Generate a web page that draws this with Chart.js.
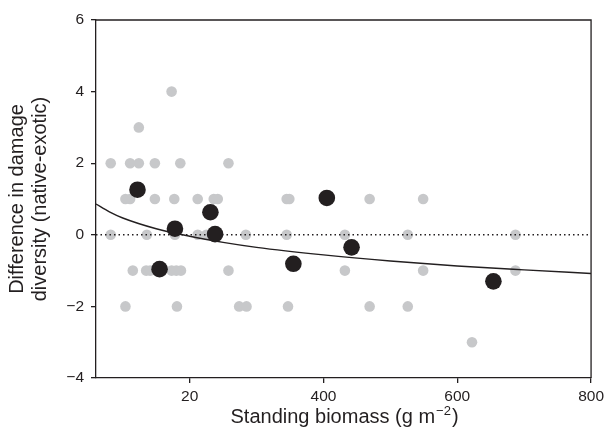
<!DOCTYPE html>
<html>
<head>
<meta charset="utf-8">
<script src="https://cdn.jsdelivr.net/npm/chart.js@4.4.1/dist/chart.umd.min.js"></script>
<style>
  body { margin: 0; background: #fff; }
</style>
</head>
<body>
<canvas id="grafico" width="608" height="437"></canvas>
<script>
// grey points: individual plots
const grisX = [173, 124,
  82, 111, 124, 148, 186, 258,
  104, 111, 148, 177, 212, 236, 242, 345, 349, 469, 549,
  82, 136, 178, 212, 225, 284, 345, 432, 526, 687,
  115, 135, 141, 173, 180, 187, 258, 432, 549, 687,
  104, 181, 274, 285, 347, 469, 526,
  622];
const grisY = [4, 3,
  2, 2, 2, 2, 2, 2,
  1, 1, 1, 1, 1, 1, 1, 1, 1, 1, 1,
  0, 0, 0, 0, 0, 0, 0, 0, 0, 0,
  -1, -1, -1, -1, -1, -1, -1, -1, -1, -1,
  -2, -2, -2, -2, -2, -2, -2,
  -3];

// black points: site means
const mediaX = [122, 155, 178, 231, 238, 355, 405, 442, 654];
const mediaY = [1.26, -0.96, 0.17, 0.63, 0.02, -0.81, 1.03, -0.35, -1.30];

// fitted curve
const curvaX = [60, 80, 100, 150, 200, 250, 300, 400, 500, 600, 700, 800];
const curvaY = [0.86, 0.64, 0.47, 0.17, -0.04, -0.21, -0.35, -0.56, -0.73, -0.87, -0.98, -1.08];

const xTicks = [200, 400, 600, 800];
const xTickLabels = ['20', '400', '600', '800'];
const yTicks = [6, 4, 2, 0, -2, -4];

const tinta = '#231f20';
const fuente = '"Liberation Sans", Arial, sans-serif';

const toPts = (xs, ys) => xs.map((x, i) => ({ x: x, y: ys[i] }));

// box on top/right and x title with superscript
const marco = {
  id: 'marco',
  afterDatasetsDraw(chart) {
    const { ctx, chartArea: a } = chart;
    ctx.save();
    ctx.strokeStyle = tinta;
    ctx.lineWidth = 1.3;
    ctx.beginPath();
    ctx.moveTo(a.left, a.top);
    ctx.lineTo(a.right, a.top);
    ctx.lineTo(a.right, a.bottom);
    ctx.stroke();
    ctx.restore();
  },
  afterDraw(chart) {
    const { ctx, chartArea: a } = chart;
    const t1 = 'Standing biomass (g m';
    const sup = '\u22122';
    const t2 = ')';
    ctx.save();
    ctx.fillStyle = tinta;
    ctx.textBaseline = 'alphabetic';
    ctx.font = '20px ' + fuente;
    const w1 = ctx.measureText(t1).width;
    const w3 = ctx.measureText(t2).width;
    ctx.font = '13px ' + fuente;
    const w2 = ctx.measureText(sup).width;
    const cx = (a.left + a.right) / 2;
    let x = cx - (w1 + w2 + w3) / 2;
    const base = 423;
    ctx.font = '20px ' + fuente;
    ctx.fillText(t1, x, base);
    x += w1 + 1;
    ctx.font = '13px ' + fuente;
    ctx.fillText(sup, x, base - 8);
    x += w2 + 1;
    ctx.font = '20px ' + fuente;
    ctx.fillText(t2, x, base);
    ctx.restore();
  }
};

const ctx = document.getElementById('grafico').getContext('2d');
new Chart(ctx, {
  type: 'scatter',
  data: {
    datasets: [
      {
        label: 'medias',
        data: toPts(mediaX, mediaY),
        backgroundColor: tinta,
        borderWidth: 0,
        pointRadius: 8.3,
        order: 0
      },
      {
        label: 'ajuste',
        data: toPts(curvaX, curvaY),
        showLine: true,
        borderColor: tinta,
        borderWidth: 1.4,
        pointRadius: 0,
        cubicInterpolationMode: 'monotone',
        order: 1
      },
      {
        label: 'cero',
        data: [{ x: 60, y: 0 }, { x: 800, y: 0 }],
        showLine: true,
        borderColor: tinta,
        borderWidth: 1.5,
        borderDash: [1.5, 3],
        pointRadius: 0,
        order: 2
      },
      {
        label: 'parcelas',
        data: toPts(grisX, grisY),
        backgroundColor: '#c7c8ca',
        borderWidth: 0,
        pointRadius: 5.3,
        order: 3
      }
    ]
  },
  options: {
    responsive: false,
    animation: false,
    layout: { padding: { top: 20, right: 16, left: 0, bottom: 0 } },
    plugins: {
      legend: { display: false },
      tooltip: { enabled: false }
    },
    scales: {
      x: {
        type: 'linear',
        min: 60,
        max: 800,
        afterBuildTicks: s => { s.ticks = xTicks.map(v => ({ value: v })); },
        afterFit: s => { s.height = 59; },
        ticks: {
          callback: v => xTickLabels[xTicks.indexOf(v)],
          color: tinta,
          font: { family: fuente, size: 15.5 },
          padding: 4,
          maxRotation: 0
        },
        grid: { display: true, drawOnChartArea: false, drawTicks: true, tickLength: 5, color: tinta, lineWidth: 1.3 },
        border: { display: true, color: tinta, width: 1.3 }
      },
      y: {
        min: -4,
        max: 6,
        afterBuildTicks: s => { s.ticks = yTicks.map(v => ({ value: v })); },
        afterFit: s => { s.width = 96; },
        ticks: {
          callback: v => (v < 0 ? '\u2212' + Math.abs(v) : String(v)),
          color: tinta,
          font: { family: fuente, size: 15.5 },
          padding: 7
        },
        title: {
          display: true,
          text: ['Difference in damage', 'diversity (native-exotic)'],
          color: tinta,
          font: { family: fuente, size: 20, lineHeight: 1.15 },
          padding: { top: 6, bottom: 0 }
        },
        grid: { display: true, drawOnChartArea: false, drawTicks: true, tickLength: 5, color: tinta, lineWidth: 1.3 },
        border: { display: true, color: tinta, width: 1.3 }
      }
    }
  },
  plugins: [marco]
});
</script>
</body>
</html>
